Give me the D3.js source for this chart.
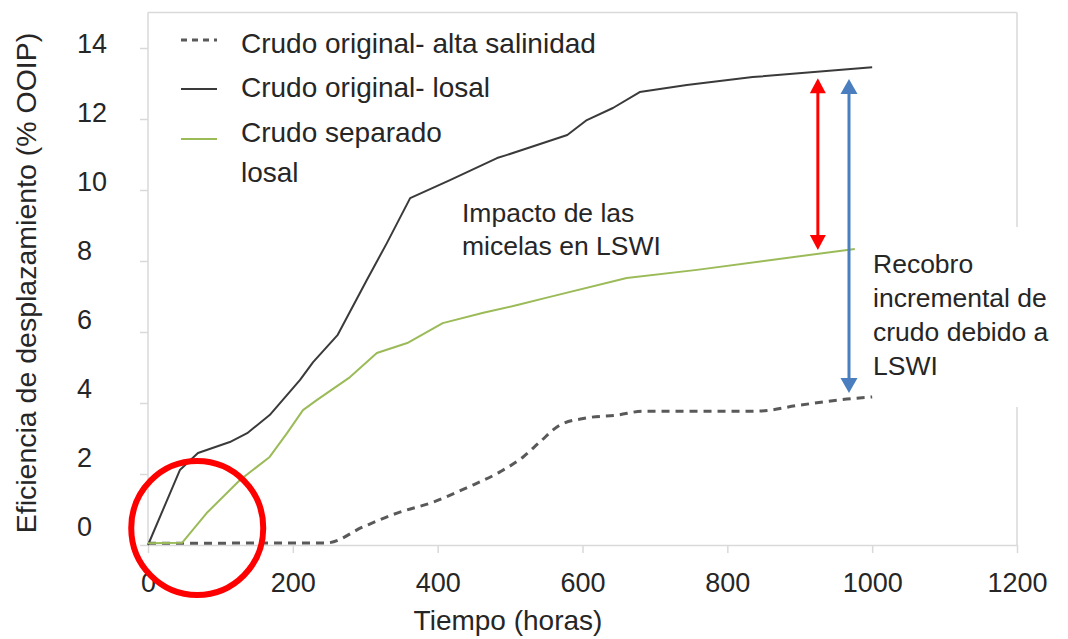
<!DOCTYPE html>
<html><head><meta charset="utf-8">
<script src="https://cdn.jsdelivr.net/npm/d3@7/dist/d3.min.js"></script>
<style>
body{margin:0;background:#fff}
svg{display:block}
text{font-family:"Liberation Sans",Arial,sans-serif}
</style>
</head><body>
<svg id="c" width="1068" height="639"></svg>
<script>
// ---- data ----
const seriesNames = ["Crudo original- alta salinidad", "Crudo original- losal", "Crudo separado losal"];
const altaHours  = [0, 247, 297, 344, 394, 440, 486, 518, 541, 569, 606, 648, 684, 841, 900, 965, 1000];
const altaValues = [0.05, 0.06, 0.51, 0.9, 1.21, 1.61, 2.06, 2.48, 2.9, 3.38, 3.58, 3.66, 3.77, 3.77, 3.94, 4.11, 4.17];
const losalHours  = [0, 44, 69, 113, 137, 168, 210, 228, 262, 302, 330, 362, 417, 482, 496, 579, 606, 642, 679, 744, 835, 1000];
const losalValues = [0, 2.11, 2.59, 2.9, 3.15, 3.66, 4.65, 5.15, 5.92, 7.46, 8.51, 9.77, 10.28, 10.9, 10.99, 11.55, 11.97, 12.31, 12.76, 12.96, 13.18, 13.46];
const sepHours  = [0, 47, 81, 127, 168, 192, 214, 233, 279, 316, 358, 407, 463, 510, 555, 661, 758, 976];
const sepValues = [0.05, 0.06, 0.9, 1.83, 2.48, 3.15, 3.8, 4.08, 4.73, 5.41, 5.69, 6.25, 6.54, 6.76, 6.99, 7.52, 7.75, 8.34];
const xTicks = [0, 200, 400, 600, 800, 1000, 1200];
const yTicks = [0, 2, 4, 6, 8, 10, 12, 14];
const xTitle = "Tiempo (horas)";
const yTitle = "Eficiencia de desplazamiento (% OOIP)";
const legendLabels = [["Crudo original- alta salinidad"], ["Crudo original- losal"], ["Crudo separado", "losal"]];
const impactoText = ["Impacto de las", "micelas en LSWI"];
const recobroText = ["Recobro", "incremental de", "crudo debido a", "LSWI"];
// annotation arrows in data units: hour, from value, to value
const redArrow  = {t: 925, v0: 8.31, v1: 13.15};
const blueArrow = {t: 968, v0: 4.28, v1: 13.13};
const circleCenter = {t: 68, v: 0.48};

// ---- layout ----
const svg = d3.select("#c");
const x = d3.scaleLinear().domain([0, 1200]).range([148, 1017]);
const y = d3.scaleLinear().domain([0, 15]).range([545, 12.5]);
const yLab = d3.scaleLinear().domain([0, 14]).range([526, 43]);
const frameCol = "#d9d9d9";
const textCol = "#262626";

// frame: top and right border
svg.append("line").attr("x1", x(0)).attr("x2", x(1200)).attr("y1", y(15)).attr("y2", y(15))
  .attr("stroke", frameCol).attr("stroke-width", 1.5);
svg.append("line").attr("x1", x(1200)).attr("x2", x(1200)).attr("y1", y(15)).attr("y2", y(0))
  .attr("stroke", frameCol).attr("stroke-width", 1.5);

// y axis (ticks/line)
const gy = svg.append("g").attr("transform", `translate(${x(0)},0)`)
  .call(d3.axisLeft(y).tickValues(yTicks).tickSize(8).tickSizeOuter(0).tickFormat(""));
gy.select(".domain").attr("d", `M0,${y(15)}V${y(0)}`);
gy.selectAll("path,line").attr("stroke", frameCol).attr("stroke-width", 1.5);

// y labels
const gyl = svg.append("g").attr("transform", "translate(77,0)")
  .call(d3.axisLeft(yLab).tickValues(yTicks).tickSize(0).tickPadding(0).tickFormat(d3.format("d")));
gyl.select(".domain").remove();
gyl.selectAll("text").attr("x", 0).attr("text-anchor", "start").attr("dy", "0.36em")
  .attr("font-size", 27).attr("fill", textCol).style("font-family", '"Liberation Sans",Arial,sans-serif');

// x axis
const gx = svg.append("g").attr("transform", `translate(0,${y(0)})`)
  .call(d3.axisBottom(x).tickValues(xTicks).tickSize(8).tickSizeOuter(0).tickPadding(20).tickFormat(d3.format("d")));
gx.selectAll("path,line").attr("stroke", frameCol).attr("stroke-width", 1.5);
gx.selectAll("text").attr("font-size", 27).attr("fill", textCol).style("font-family", '"Liberation Sans",Arial,sans-serif');

// titles
svg.append("text").attr("x", 508).attr("y", 630).attr("text-anchor", "middle")
  .attr("font-size", 28).attr("fill", textCol).text(xTitle);
svg.append("text").attr("transform", "translate(36,283) rotate(-90)").attr("text-anchor", "middle")
  .attr("font-size", 28.5).attr("fill", textCol).text(yTitle);

// white box behind "Recobro" annotation
svg.append("rect").attr("x", 866).attr("y", 227).attr("width", 202).attr("height", 180).attr("fill", "#fff");

// series lines
const line = d3.line().x(d => x(d[0])).y(d => y(d[1]));
const lineSmooth = d3.line().x(d => x(d[0])).y(d => y(d[1])).curve(d3.curveMonotoneX);
const zip = (a, b) => a.map((v, i) => [v, b[i]]);
const series = [
  {name: seriesNames[0], data: zip(altaHours, altaValues), color: "#595959", width: 3, dash: "8,6", gen: lineSmooth},
  {name: seriesNames[1], data: zip(losalHours, losalValues), color: "#3a3a3a", width: 2, dash: null, gen: line},
  {name: seriesNames[2], data: zip(sepHours, sepValues), color: "#9bbb59", width: 2, dash: null, gen: line}
];
series.forEach(s => {
  svg.append("path").attr("d", s.gen(s.data)).attr("fill", "none")
    .attr("stroke", s.color).attr("stroke-width", s.width)
    .attr("stroke-dasharray", s.dash).attr("stroke-linejoin", "round");
});

// legend
const legY = [40, 89, 139];
const legBase = [53, 97, 142];
series.forEach((s, i) => {
  svg.append("line").attr("x1", 181).attr("x2", 217).attr("y1", legY[i]).attr("y2", legY[i])
    .attr("stroke", s.color).attr("stroke-width", s.width).attr("stroke-dasharray", s.dash ? "6,5" : null);
  const t = svg.append("text").attr("x", 241).attr("y", legBase[i]).attr("font-size", 28).attr("fill", textCol);
  legendLabels[i].forEach((ln, j) => {
    t.append("tspan").attr("x", 241).attr("dy", j === 0 ? 0 : 40).text(ln);
  });
});

// annotations text
const ti = svg.append("text").attr("x", 462).attr("y", 222).attr("font-size", 26.5).attr("fill", textCol);
impactoText.forEach((ln, j) => ti.append("tspan").attr("x", 462).attr("dy", j === 0 ? 0 : 33).text(ln));
const tr = svg.append("text").attr("x", 873).attr("y", 273).attr("font-size", 26.5).attr("fill", textCol);
recobroText.forEach((ln, j) => tr.append("tspan").attr("x", 873).attr("dy", j === 0 ? 0 : 34).text(ln));

// arrows
function arrow(a, color, headW, headL, sw) {
  const xp = x(a.t), yTop = y(a.v1), yBot = y(a.v0);
  svg.append("line").attr("x1", xp).attr("x2", xp).attr("y1", yTop + headL - 2).attr("y2", yBot - headL + 2)
    .attr("stroke", color).attr("stroke-width", sw);
  svg.append("path").attr("d", `M${xp},${yTop}L${xp - headW / 2},${yTop + headL}L${xp + headW / 2},${yTop + headL}Z`).attr("fill", color);
  svg.append("path").attr("d", `M${xp},${yBot}L${xp - headW / 2},${yBot - headL}L${xp + headW / 2},${yBot - headL}Z`).attr("fill", color);
}
arrow(redArrow, "#ff0000", 16, 15, 3);
arrow(blueArrow, "#4a7ebf", 17, 15, 3);

// red circle
svg.append("ellipse").attr("cx", x(circleCenter.t)).attr("cy", y(circleCenter.v))
  .attr("rx", 66).attr("ry", 67).attr("fill", "none").attr("stroke", "#ff0000").attr("stroke-width", 6);
</script>
</body></html>
